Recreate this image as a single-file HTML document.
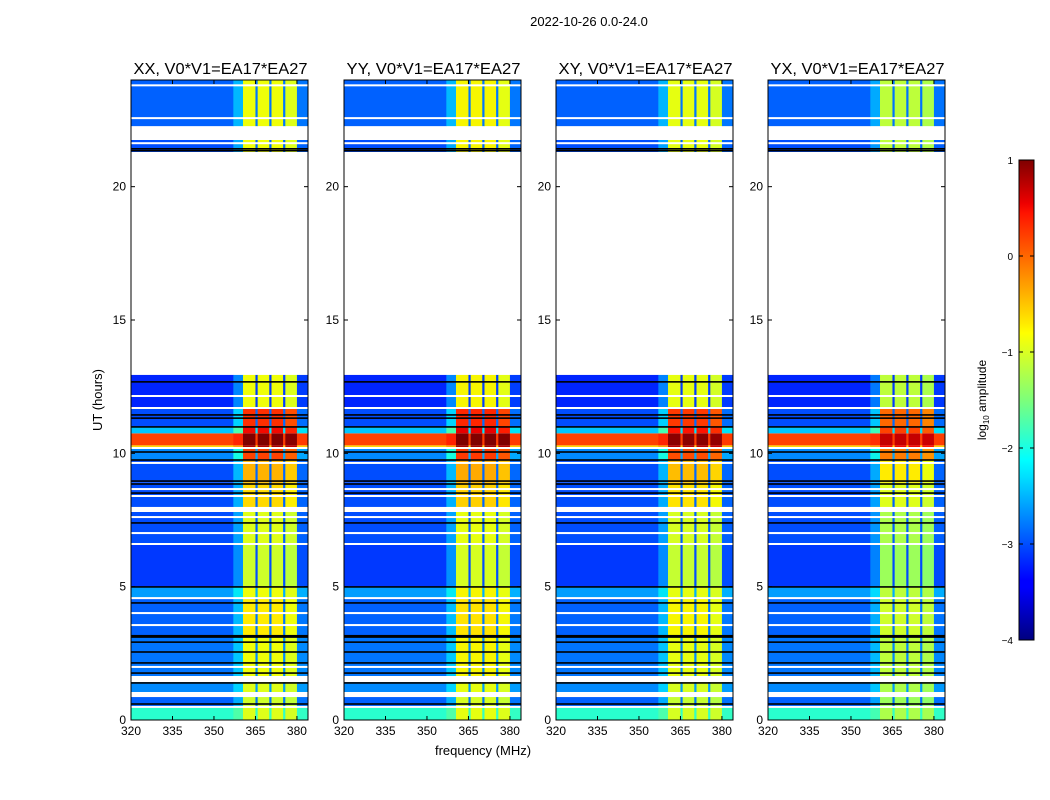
<!DOCTYPE html>
<html><head><meta charset="utf-8">
<style>
body{margin:0;background:#fff;}
svg{display:block;font-family:"Liberation Sans","DejaVu Sans",sans-serif;}
</style></head>
<body>
<svg id="fig" width="1050" height="800" viewBox="0 0 1050 800" xmlns="http://www.w3.org/2000/svg">
<rect width="1050" height="800" fill="#fff"/>
<text x="589" y="26" font-size="13" text-anchor="middle">2022-10-26 0.0-24.0</text>
<text x="102" y="400" font-size="13" text-anchor="middle" transform="rotate(-90 102 400)">UT (hours)</text>
<text x="483" y="755" font-size="13" text-anchor="middle">frequency (MHz)</text>
<g id="panels"></g>
<defs>
<linearGradient id="jetgrad" x1="0" y1="1" x2="0" y2="0">
<stop offset="0" stop-color="#00007f"/><stop offset="0.11" stop-color="#0000ff"/><stop offset="0.125" stop-color="#0000ff"/>
<stop offset="0.34" stop-color="#00dfff"/><stop offset="0.375" stop-color="#00ffff"/><stop offset="0.5" stop-color="#7dff7a"/>
<stop offset="0.64" stop-color="#ffff00"/><stop offset="0.66" stop-color="#ffea00"/><stop offset="0.89" stop-color="#ff1300"/><stop offset="0.91" stop-color="#ed0000"/><stop offset="1" stop-color="#7f0000"/>
</linearGradient>
</defs>
<g id="colorbar">
<rect x="1019" y="160" width="15" height="480" fill="url(#jetgrad)" stroke="#000" stroke-width="1"/>
<text x="986" y="400" font-size="12" text-anchor="middle" transform="rotate(-90 986 400)">log<tspan font-size="8" dy="3">10</tspan><tspan dy="-3"> amplitude</tspan></text>
</g>
</svg>
<script>
// ---- data ----
const panelTitles = ["XX, V0*V1=EA17*EA27","YY, V0*V1=EA17*EA27","XY, V0*V1=EA17*EA27","YX, V0*V1=EA17*EA27"];
const panelRfiOffset = [0, 0.05, -0.05, -0.3];
const freqEdges = [320, 357, 360.5, 365, 365.8, 370, 370.8, 375, 375.8, 380, 384];
const freqGain  = [0, 0.2, 1.0, 0.05, 1.0, 0.05, 1.0, 0.05, 0.95, 0.05];
const segStart = [0, 0.45, 1.05, 1.65, 3.1, 4.6, 5.0, 6.6, 7.99, 8.9, 9.75, 10.2, 10.3, 10.75, 11.0, 11.7, 21.3, 22.27];
const segEnd   = [0.45, 0.86, 1.42, 3.1, 4.6, 5.0, 6.6, 7.8, 8.9, 9.75, 10.2, 10.3, 10.75, 11.0, 11.7, 12.94, 21.75, 24];
const segBase  = [-2.0, -2.9, -2.7, -2.8, -2.9, -2.6, -3.1, -3.0, -3.0, -3.0, -2.7, -0.6, 0.2, -2.4, -3.0, -3.2, -3.0, -2.9];
const segRfi   = [-0.9, -1.0, -0.9, -0.8, -0.7, -0.8, -1.0, -0.9, -0.6, -0.4, 0.2, 0.8, 1.0, 0.5, 0.3, -0.8, -0.8, -0.8];
const blackLines = [0.6, 1.39, 1.76, 2.14, 2.55, 2.92, 3.11, 3.16, 4.39, 4.99, 7.39, 8.51, 8.85, 8.96, 9.75, 10.05, 10.99, 11.32, 11.44, 12.68, 21.35, 21.42];
const whiteLines = [0.49, 1.99, 3.56, 4.01, 4.57, 6.6, 7.01, 7.61, 8.4, 8.66, 9.64, 10.2, 11.7, 12.15, 21.63, 22.57, 23.8];
const xTicks = [320, 335, 350, 365, 380];
const yTicks = [0, 5, 10, 15, 20];
const cbTicks = [1, 0, -1, -2, -3, -4];

// ---- layout ----
const panelX = [131, 344, 556, 768];
const PW = 177, PT = 80, PB = 720;
const NS = "http://www.w3.org/2000/svg";
function xs(p, f){ return panelX[p] + (f - 320) / 64 * PW; }
function ys(h){ return PB - h / 24 * (PB - PT); }
function interp(pts, t){
  for(let i=1;i<pts.length;i++){ if(t<=pts[i][0]){ const a=pts[i-1],b=pts[i]; return a[1]+(b[1]-a[1])*(t-a[0])/(b[0]-a[0]); } }
  return pts[pts.length-1][1];
}
function jet(v){
  let t = Math.max(0, Math.min(1, (v + 4) / 5));
  const r = interp([[0,0],[0.35,0],[0.66,1],[0.89,1],[1,0.5]], t);
  const g = interp([[0,0],[0.125,0],[0.375,1],[0.64,1],[0.91,0],[1,0]], t);
  const b = interp([[0,0.5],[0.11,1],[0.34,1],[0.65,0],[1,0]], t);
  return `rgb(${Math.round(r*255)},${Math.round(g*255)},${Math.round(b*255)})`;
}
function mk(tag, attrs, parent){
  const e = document.createElementNS(NS, tag);
  for(const k in attrs) e.setAttribute(k, attrs[k]);
  parent.appendChild(e); return e;
}
const root = document.getElementById('panels');
for(let p=0;p<4;p++){
  const g = mk('g', {}, root);
  
  
  for(let i=0;i<segStart.length;i++){
    for(let j=0;j<freqGain.length;j++){
      const v = segBase[i] + freqGain[j] * (segRfi[i] + panelRfiOffset[p] - segBase[i]);
      const x0 = xs(p, freqEdges[j]), x1 = xs(p, freqEdges[j+1]);
      const y0 = ys(segEnd[i]), y1 = ys(segStart[i]);
      const r = mk('rect', {x:x0, y:y0, width:x1-x0+0.3, height:y1-y0, fill:jet(v)}, g);
      
      
    }
  }
  for(const h of whiteLines){
    const r = mk('rect', {x:panelX[p], y:ys(h)-1, width:PW, height:2, fill:'#fff'}, g);
    
    
  }
  for(const h of blackLines){
    const r = mk('rect', {x:panelX[p], y:ys(h)-0.8, width:PW, height:1.6, fill:'#000'}, g);
    
    
  }
  const fr = mk('rect', {x:panelX[p], y:PT, width:PW, height:PB-PT, fill:'none', stroke:'#000', 'stroke-width':1}, g);
  
  
  const t = mk('text', {x:panelX[p]+PW/2+1, y:74, 'font-size':16, 'text-anchor':'middle', textLength:174, lengthAdjust:'spacingAndGlyphs'}, g);
  t.textContent = panelTitles[p];
  
  
  for(const f of xTicks){
    const x = xs(p, f);
    mk('line', {x1:x, x2:x, y1:PB, y2:PB-4, stroke:'#000'}, g);
    mk('line', {x1:x, x2:x, y1:PT, y2:PT+4, stroke:'#000'}, g);
    const tl = mk('text', {x:x, y:PB+15, 'font-size':12, 'text-anchor':'middle'}, g);
    tl.textContent = f;
    
    
  }
  for(const h of yTicks){
    const y = ys(h);
    mk('line', {x1:panelX[p], x2:panelX[p]+4, y1:y, y2:y, stroke:'#000'}, g);
    mk('line', {x1:panelX[p]+PW, x2:panelX[p]+PW-4, y1:y, y2:y, stroke:'#000'}, g);
    const tl = mk('text', {x:panelX[p]-5, y:y+4, 'font-size':12, 'text-anchor':'end'}, g);
    tl.textContent = h;
    
    
  }
}
const cb = document.getElementById('colorbar');
for(const v of cbTicks){
  const y = 160 + (1 - v) / 5 * 480;
  mk('line', {x1:1019, x2:1023, y1:y, y2:y, stroke:'#000'}, cb);
  mk('line', {x1:1034, x2:1030, y1:y, y2:y, stroke:'#000'}, cb);
  const tl = mk('text', {x:1013, y:y+4, 'font-size':10, 'text-anchor':'end'}, cb);
  tl.textContent = v < 0 ? '\u2212' + (-v) : v;
  
  
}
</script>
</body></html>
